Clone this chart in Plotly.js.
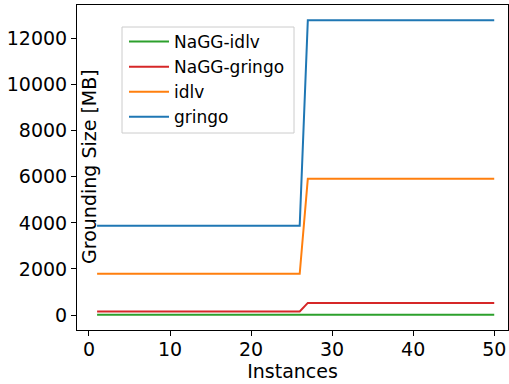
<!DOCTYPE html>
<html>
<head>
<meta charset="utf-8">
<script src="https://cdn.plot.ly/plotly-3.0.1.min.js"></script>
<style>html,body{margin:0;padding:0;background:#fff;}#chart{width:509px;height:384px;}</style>
</head>
<body>
<div id="chart"></div>
<script>
var instances = [1,2,3,4,5,6,7,8,9,10,11,12,13,14,15,16,17,18,19,20,21,22,23,24,25,26,27,28,29,30,31,32,33,34,35,36,37,38,39,40,41,42,43,44,45,46,47,48,49,50];
var naggIdlv = [10,10,10,10,10,10,10,10,10,10,10,10,10,10,10,10,10,10,10,10,10,10,10,10,10,10,15,15,15,15,15,15,15,15,15,15,15,15,15,15,15,15,15,15,15,15,15,15,15,15];
var naggGringo = [150,150,150,150,150,150,150,150,150,150,150,150,150,150,150,150,150,150,150,150,150,150,150,150,150,150,525,525,525,525,525,525,525,525,525,525,525,525,525,525,525,525,525,525,525,525,525,525,525,525];
var idlv = [1790,1790,1790,1790,1790,1790,1790,1790,1790,1790,1790,1790,1790,1790,1790,1790,1790,1790,1790,1790,1790,1790,1790,1790,1790,1790,5920,5920,5920,5920,5920,5920,5920,5920,5920,5920,5920,5920,5920,5920,5920,5920,5920,5920,5920,5920,5920,5920,5920,5920];
var gringo = [3880,3880,3880,3880,3880,3880,3880,3880,3880,3880,3880,3880,3880,3880,3880,3880,3880,3880,3880,3880,3880,3880,3880,3880,3880,3880,12800,12800,12800,12800,12800,12800,12800,12800,12800,12800,12800,12800,12800,12800,12800,12800,12800,12800,12800,12800,12800,12800,12800,12800];
var seriesNames = ['NaGG-idlv','NaGG-gringo','idlv','gringo'];
var seriesColors = ['#2ca02c','#d62728','#ff7f0e','#1f77b4'];
var seriesData = [naggIdlv, naggGringo, idlv, gringo];
var xTicks = [0,10,20,30,40,50];
var yTicks = [0,2000,4000,6000,8000,10000,12000];

var traces = seriesData.map(function(d,i){
  return {x: instances, y: d, type:'scatter', mode:'lines', name: seriesNames[i],
    line:{color: seriesColors[i], width:2}};
});
var font = {family:'DejaVu Sans', size:19, color:'#000'};
// plot area: x 77..508, y 5..330
function px(x){return (x-77)/431;}
function py(y){return (330-y)/325;}
var layout = {
  width:509, height:384,
  margin:{l:77, r:1, t:5, b:54},
  paper_bgcolor:'#fff', plot_bgcolor:'#fff',
  font: font,
  showlegend:true,
  legend:{x:px(124), y:py(24), xanchor:'left', yanchor:'top', bgcolor:'rgba(0,0,0,0)', borderwidth:0,
    font:{family:'DejaVu Sans', size:17, color:'#000'}, traceorder:'normal', tracegroupgap:0, itemwidth:40},
  xaxis:{range:[-1.48,51.7], tickvals:xTicks, ticktext:xTicks.map(String), showgrid:false, zeroline:false,
    showline:true, linecolor:'#000', linewidth:1, mirror:true, ticks:'outside', ticklen:5, tickcolor:'#000',
    tickfont:font, ticklabelstandoff:-3, title:{text:'Instances', font:font, standoff:0}},
  yaxis:{range:[-651,13460], tickvals:yTicks, ticktext:yTicks.map(String), showgrid:false, zeroline:false,
    showline:true, linecolor:'#000', linewidth:1, mirror:true, ticks:'outside', ticklen:5, tickcolor:'#000',
    tickfont:font},
  shapes:[{type:'rect', xref:'paper', yref:'paper', x0:px(122), x1:px(294), y0:py(133), y1:py(27),
    fillcolor:'#fff', line:{color:'#cccccc', width:1}, layer:'above'}],
  annotations:[{text:'Grounding Size [MB]', xref:'paper', yref:'paper', x:0.028, y:0.502, textangle:-90,
    showarrow:false, font:font, xanchor:'center', yanchor:'middle'}]
};
Plotly.newPlot('chart', traces, layout, {displayModeBar:false, staticPlot:true});
</script>
</body>
</html>
